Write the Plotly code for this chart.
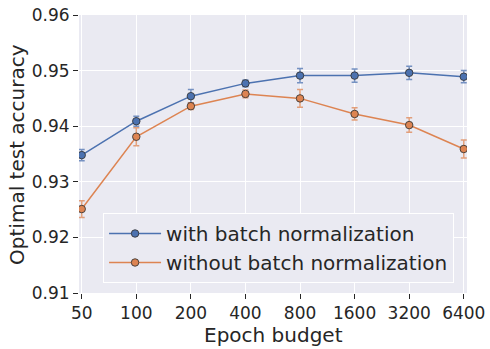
import plotly.graph_objects as go

budgets = [50, 100, 200, 400, 800, 1600, 3200, 6400]
tick_labels = ['50', '100', '200', '400', '800', '1600', '3200', '6400']

acc_bn = [0.9348, 0.9409, 0.9454, 0.9477, 0.9491, 0.9491, 0.9496, 0.9489]
err_bn = [0.0010, 0.0009, 0.0012, 0.0006, 0.0013, 0.0012, 0.0012, 0.0011]

acc_nobn = [0.9251, 0.9381, 0.9436, 0.9458, 0.9450, 0.9422, 0.9402, 0.9359]
err_nobn = [0.0015, 0.0016, 0.0006, 0.0007, 0.0016, 0.0011, 0.0013, 0.0016]

blue = '#4C72B0'
orange = '#DD8452'
bg = '#EAEAF2'
text_color = '#262626'


def add_series(fig, y, err, color, err_color, name):
    fig.add_trace(go.Scatter(
        x=budgets, y=y, name=name, mode='lines+markers',
        line=dict(color=color, width=1.5),
        marker=dict(color=color, size=7.5, line=dict(color='rgba(50,50,50,0.85)', width=1)),
        error_y=dict(type='data', array=err, visible=True, color=err_color,
                     thickness=1.5, width=3),
        hoverinfo='none'
    ))


fig = go.Figure()
add_series(fig, acc_bn, err_bn, blue, 'rgba(76,114,176,0.75)', 'with batch normalization')
add_series(fig, acc_nobn, err_nobn, orange, 'rgba(221,132,82,0.75)', 'without batch normalization')

fig.update_xaxes(
    type='log', range=[1.684, 3.824],
    tickvals=budgets, ticktext=tick_labels,
    showgrid=True, gridcolor='white', gridwidth=1, zeroline=False,
    ticks='outside', ticklen=5, tickcolor=text_color, tickwidth=1,
    tickfont=dict(size=17, color=text_color),
    automargin=False,
)
fig.update_yaxes(
    range=[0.91, 0.96], tickvals=[0.91, 0.92, 0.93, 0.94, 0.95, 0.96],
    tickformat='.2f',
    showgrid=True, gridcolor='white', gridwidth=1, zeroline=False,
    ticks='outside', ticklen=5, tickcolor=text_color, tickwidth=1,
    tickfont=dict(size=17, color=text_color),
    automargin=False,
)

# axis titles
fig.add_annotation(text='Epoch budget', xref='paper', yref='paper', x=0.5, y=-0.15,
                   xanchor='center', yanchor='middle', showarrow=False,
                   font=dict(size=20, color=text_color))
fig.add_annotation(text='Optimal test accuracy', xref='paper', yref='paper', x=-0.16, y=0.5,
                   xanchor='center', yanchor='middle', showarrow=False, textangle=-90,
                   font=dict(size=20, color=text_color))

fig.update_layout(
    width=490, height=349,
    margin=dict(l=79, r=23, t=15, b=56),
    paper_bgcolor='white',
    plot_bgcolor=bg,
    font_family='DejaVu Sans',
    font_color=text_color,
    legend=dict(
        x=0.062, y=0.036, xanchor='left', yanchor='bottom',
        bgcolor=bg, bordercolor='white', borderwidth=1,
        font=dict(size=20, color=text_color),
        itemwidth=52, tracegroupgap=0,
    ),
)

fig.write_html('out.html', config={'displayModeBar': False},
               post_script="document.body.style.margin='0';document.body.style.overflow='hidden';")
